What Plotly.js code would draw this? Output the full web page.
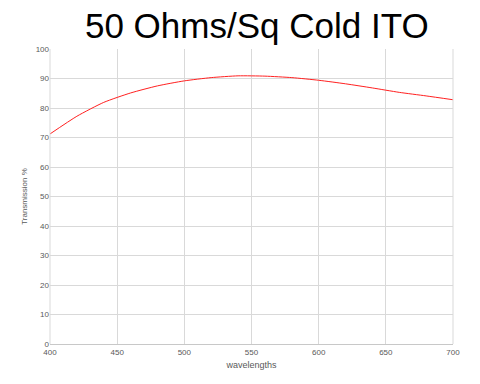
<!DOCTYPE html>
<html><head><meta charset="utf-8">
<script src="https://cdn.plot.ly/plotly-3.0.1.min.js"></script>
<style>html,body{margin:0;padding:0;background:#fff}#chart{width:480px;height:384px}</style>
</head><body><div id="chart"></div>
<script>
const wavelengths = [400,420,440,460,480,500,520,540,560,580,600,620,640,660,680,700];
const transmission = [71.2,77.2,81.9,85.1,87.5,89.2,90.3,90.9,90.8,90.3,89.4,88.2,86.8,85.3,84.1,82.8];
const xTicks = [400,450,500,550,600,650,700];
const yTicks = [0,10,20,30,40,50,60,70,80,90,100];

Plotly.newPlot('chart', [{
  x: wavelengths, y: transmission, type: 'scatter', mode: 'lines',
  line: {color: '#ff2020', width: 1, shape: 'spline', smoothing: 0.6}, hoverinfo: 'skip'
}], {
  width: 480, height: 384,
  margin: {l: 50, r: 27, t: 49, b: 40},
  paper_bgcolor: '#fff', plot_bgcolor: '#fff',
  font: {family: 'Liberation Sans, Arial, sans-serif', color: '#595959', size: 8},
  title: {text: '50 Ohms/Sq Cold ITO', font: {size: 35, color: '#000', family: 'Liberation Sans, Arial, sans-serif'},
          x: 0.535, xanchor: 'center', y: 0.965, yanchor: 'top'},
  xaxis: {range: [400, 700], tickvals: xTicks, showgrid: true, gridcolor: '#d9d9d9', gridwidth: 1,
          showline: true, linecolor: '#c8c8c8', zeroline: false, ticks: '', ticklen: 0,
          title: {text: 'wavelengths', font: {size: 9, color: '#595959'}, standoff: 6},
          tickfont: {size: 8, color: '#595959'}, fixedrange: true},
  yaxis: {range: [0, 100], tickvals: yTicks, showgrid: true, gridcolor: '#d9d9d9', gridwidth: 1,
          showline: false, zeroline: false, ticks: '',
          title: {text: 'Transmission %', font: {size: 8, color: '#595959'}, standoff: 6},
          tickfont: {size: 8, color: '#595959'}, fixedrange: true},
  shapes: [{type: 'line', xref: 'paper', yref: 'paper', x0: 1, x1: 1, y0: 0, y1: 1, line: {color: '#d9d9d9', width: 1}},
           {type: 'line', xref: 'paper', yref: 'paper', x0: 0, x1: 0, y0: 0, y1: 1, line: {color: '#d9d9d9', width: 1}}],
  showlegend: false
}, {displayModeBar: false, staticPlot: true});
</script></body></html>
